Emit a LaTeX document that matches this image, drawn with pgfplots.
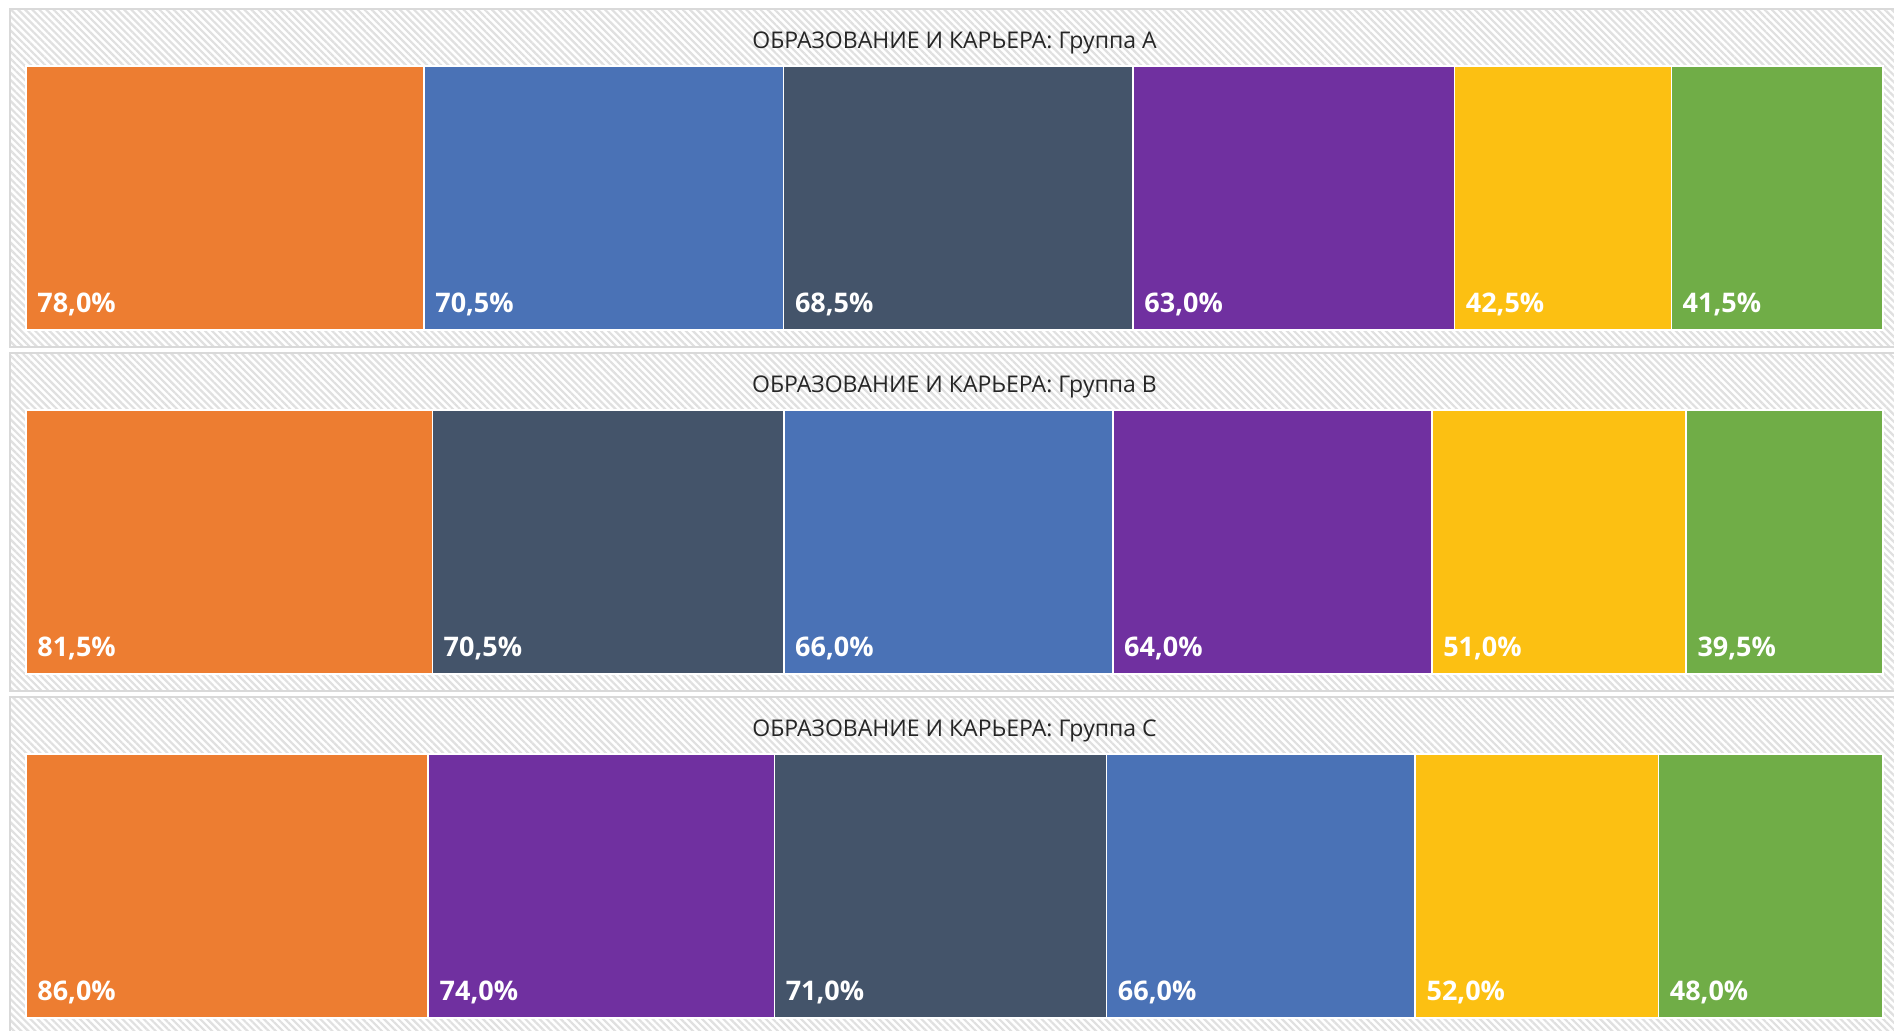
\documentclass[border=0pt]{standalone}
\usepackage{fontspec}
\setmainfont{Open Sans}
\usepackage{pgfplots}
\pgfplotsset{compat=1.18}
\usetikzlibrary{patterns.meta}

\definecolor{cOrange}{HTML}{ED7D31}
\definecolor{cBlue}{HTML}{4A72B6}
\definecolor{cSlate}{HTML}{44546A}
\definecolor{cPurple}{HTML}{7030A0}
\definecolor{cYellow}{HTML}{FCC012}
\definecolor{cGreen}{HTML}{70AD47}

\pgfplotsset{
  panel/.style={
    xbar stacked, scale only axis, clip=false,
    width=928.5pt, height=132pt,
    xmin=0, ymin=-0.5, ymax=0.5, bar width=1,
    axis line style={draw=none}, xtick=\empty, ytick=\empty,
    anchor=north west,
  },
  seg/.style={fill=#1, draw=white, line width=0.8pt},
}
\tikzset{
  vlab/.style={anchor=base west, inner sep=0pt, xshift=5.5pt, yshift=9pt, text=white,
    font=\bfseries\fontsize{13.5}{15}\selectfont},
  ptitle/.style={yshift=11.5pt, text=black!85, font=\fontsize{11.5}{13}\selectfont},
  pbox/.style={line width=1.3pt, draw=black!15},
}

\begin{document}
\begin{tikzpicture}
\path[use as bounding box] (0pt,0pt) rectangle (947pt,-515.5pt);
\clip (0pt,0pt) rectangle (947pt,-515.5pt);
% panel backgrounds
\foreach \t in {4.5,176.5,348.5}{
  \fill[white] (5pt,-\t pt) rectangle (970pt,{-\t pt-169pt});
  \fill[pattern={Lines[angle=-45,distance=2.5pt,line width=1.1pt]}, pattern color=black!12]
    (5pt,-\t pt) rectangle (970pt,{-\t pt-169pt});
  \draw[pbox] (5pt,-\t pt) rectangle (970pt,{-\t pt-169pt});
}

% Group A
\begin{axis}[panel, at={(13pt,-33pt)}, xmax=364]
\addplot[seg=cOrange] coordinates {(78,0)};
\addplot[seg=cBlue]   coordinates {(70.5,0)};
\addplot[seg=cSlate]  coordinates {(68.5,0)};
\addplot[seg=cPurple] coordinates {(63,0)};
\addplot[seg=cYellow] coordinates {(42.5,0)};
\addplot[seg=cGreen]  coordinates {(41.5,0)};
\coordinate (A1) at (axis cs:0,-0.5);
\coordinate (A2) at (axis cs:78,-0.5);
\coordinate (A3) at (axis cs:148.5,-0.5);
\coordinate (A4) at (axis cs:217,-0.5);
\coordinate (A5) at (axis cs:280,-0.5);
\coordinate (A6) at (axis cs:322.5,-0.5);
\node[ptitle] at (rel axis cs:0.5,1) {ОБРАЗОВАНИЕ И КАРЬЕРА: Группа A};
\end{axis}
\node[vlab] at (A1) {78,0\%};
\node[vlab] at (A2) {70,5\%};
\node[vlab] at (A3) {68,5\%};
\node[vlab] at (A4) {63,0\%};
\node[vlab] at (A5) {42,5\%};
\node[vlab] at (A6) {41,5\%};

% Group B
\begin{axis}[panel, at={(13pt,-205pt)}, xmax=372.5]
\addplot[seg=cOrange] coordinates {(81.5,0)};
\addplot[seg=cSlate]  coordinates {(70.5,0)};
\addplot[seg=cBlue]   coordinates {(66,0)};
\addplot[seg=cPurple] coordinates {(64,0)};
\addplot[seg=cYellow] coordinates {(51,0)};
\addplot[seg=cGreen]  coordinates {(39.5,0)};
\coordinate (B1) at (axis cs:0,-0.5);
\coordinate (B2) at (axis cs:81.5,-0.5);
\coordinate (B3) at (axis cs:152,-0.5);
\coordinate (B4) at (axis cs:218,-0.5);
\coordinate (B5) at (axis cs:282,-0.5);
\coordinate (B6) at (axis cs:333,-0.5);
\node[ptitle] at (rel axis cs:0.5,1) {ОБРАЗОВАНИЕ И КАРЬЕРА: Группа B};
\end{axis}
\node[vlab] at (B1) {81,5\%};
\node[vlab] at (B2) {70,5\%};
\node[vlab] at (B3) {66,0\%};
\node[vlab] at (B4) {64,0\%};
\node[vlab] at (B5) {51,0\%};
\node[vlab] at (B6) {39,5\%};

% Group C
\begin{axis}[panel, at={(13pt,-377pt)}, xmax=397]
\addplot[seg=cOrange] coordinates {(86,0)};
\addplot[seg=cPurple] coordinates {(74,0)};
\addplot[seg=cSlate]  coordinates {(71,0)};
\addplot[seg=cBlue]   coordinates {(66,0)};
\addplot[seg=cYellow] coordinates {(52,0)};
\addplot[seg=cGreen]  coordinates {(48,0)};
\coordinate (C1) at (axis cs:0,-0.5);
\coordinate (C2) at (axis cs:86,-0.5);
\coordinate (C3) at (axis cs:160,-0.5);
\coordinate (C4) at (axis cs:231,-0.5);
\coordinate (C5) at (axis cs:297,-0.5);
\coordinate (C6) at (axis cs:349,-0.5);
\node[ptitle] at (rel axis cs:0.5,1) {ОБРАЗОВАНИЕ И КАРЬЕРА: Группа C};
\end{axis}
\node[vlab] at (C1) {86,0\%};
\node[vlab] at (C2) {74,0\%};
\node[vlab] at (C3) {71,0\%};
\node[vlab] at (C4) {66,0\%};
\node[vlab] at (C5) {52,0\%};
\node[vlab] at (C6) {48,0\%};
\end{tikzpicture}
\end{document}
